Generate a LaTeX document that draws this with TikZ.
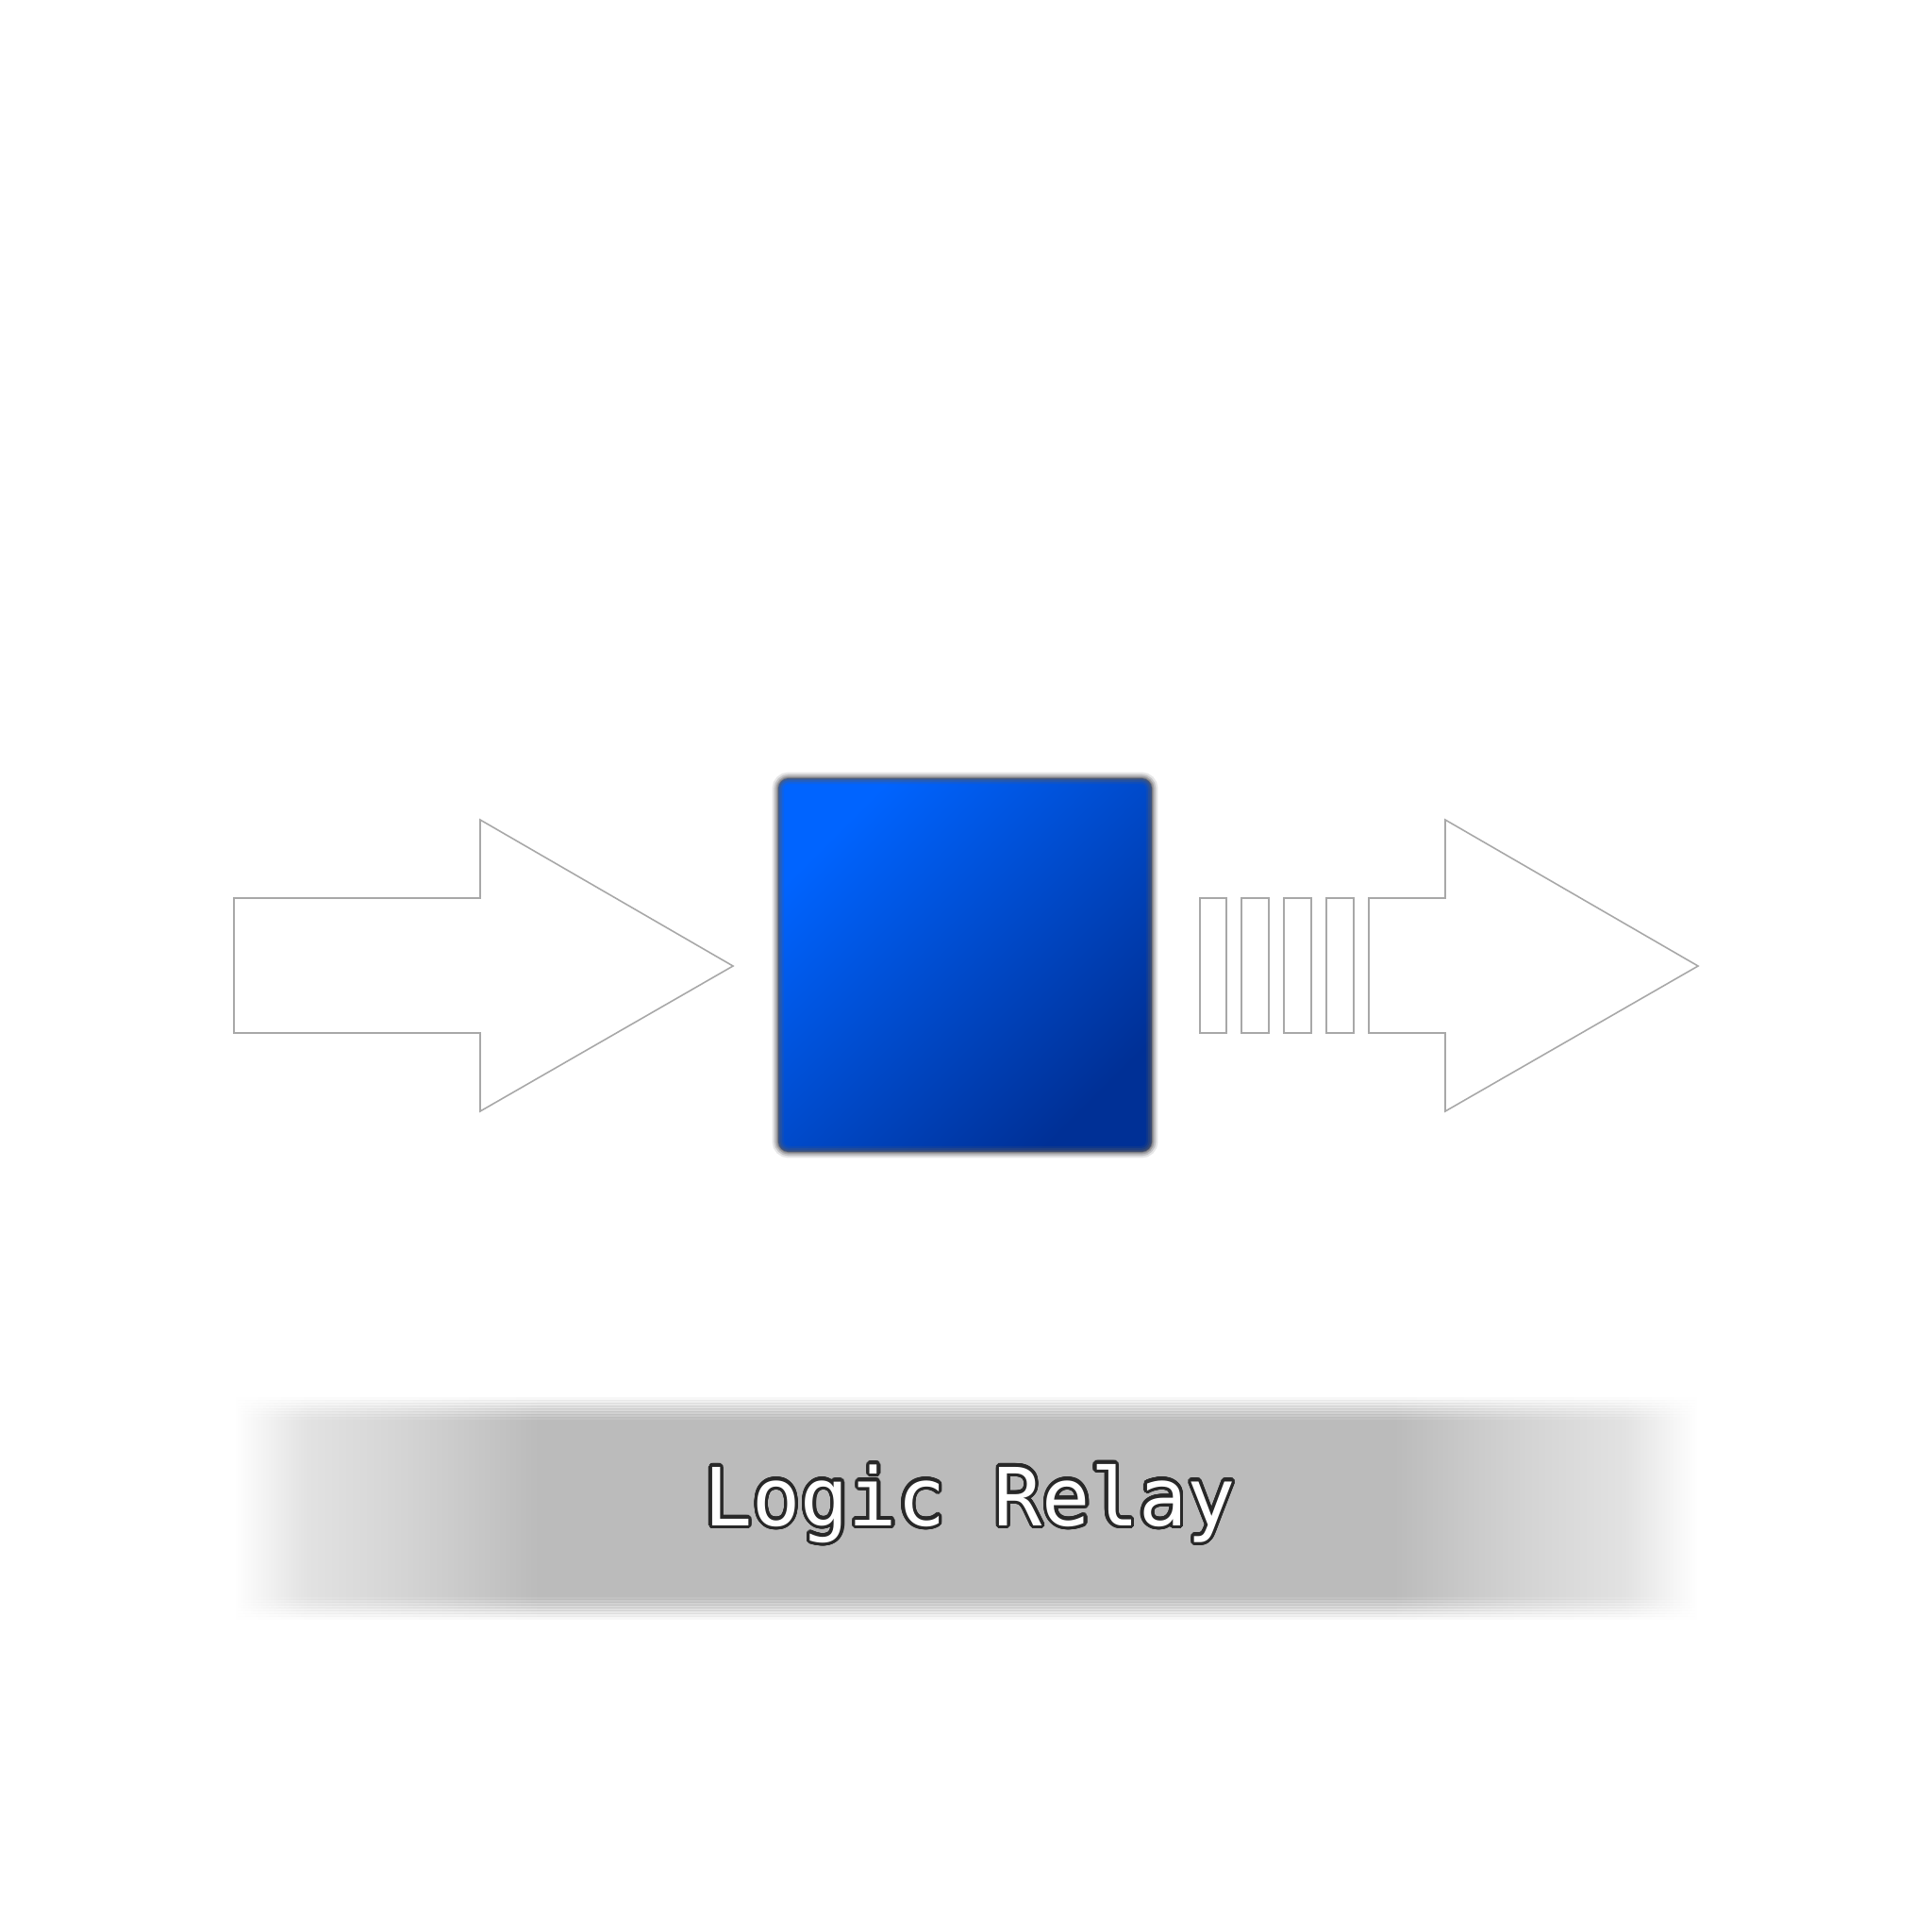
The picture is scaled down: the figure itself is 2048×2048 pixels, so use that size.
\documentclass[tikz,border=0pt]{standalone}
\usepackage{fontspec}
\usepackage{contour}
\newfontfamily\labelfont{DejaVu Sans Mono}
\definecolor{arrowline}{RGB}{168,168,168}
\definecolor{blueA}{RGB}{0,100,255}
\definecolor{blueB}{RGB}{0,48,150}
\definecolor{edgegray}{RGB}{90,90,96}
\definecolor{textline}{RGB}{40,40,40}
\definecolor{bandA}{RGB}{226,226,226}
\definecolor{bandB}{RGB}{213,213,213}
\definecolor{bandC}{RGB}{204,204,204}
\definecolor{bandD}{RGB}{187,187,187}
\pgfdeclarehorizontalshading{bandsh}{100bp}{color(0bp)=(white); color(25bp)=(white); color(27.5bp)=(bandA); color(30.6bp)=(bandB); color(32.4bp)=(bandC); color(35.4bp)=(bandD); color(64.6bp)=(bandD); color(67.6bp)=(bandC); color(69.4bp)=(bandB); color(72.5bp)=(bandA); color(75bp)=(white); color(100bp)=(white)}
\contourlength{0.95pt}
\contournumber{32}
\tikzset{
  bigarrow/.style={draw=arrowline, fill=white, line width=0.45pt, line join=miter},
  barbox/.style={draw=arrowline, fill=white, line width=0.45pt},
  relaybox/.style={minimum size=3.96cm, inner sep=0pt, rounded corners=0.11cm,
    top color=blueA, bottom color=blueB, shading angle=45,
    postaction={draw=edgegray, line width=3.6pt, draw opacity=0.15},
    postaction={draw=edgegray, line width=2.4pt, draw opacity=0.25},
    postaction={draw=edgegray, line width=1.3pt, draw opacity=0.35},
    postaction={draw=edgegray, line width=0.5pt, draw opacity=0.4}},
  labeltext/.style={anchor=base, inner sep=0pt, text=white,
    font=\labelfont\fontsize{24.2pt}{29pt}\selectfont}
}
\begin{document}
\begin{tikzpicture}[x=0.01cm, y=-0.01cm]
\useasboundingbox (0,0) rectangle (2048,2048);
\fill[white] (0,0) rectangle (2048,2048);

% input arrow
\draw[bigarrow] (248,952) -- (509,952) -- (509,869) -- (777,1024) -- (509,1178) -- (509,1095) -- (248,1095) -- cycle;

% relay block
\node[relaybox] (relay) at (1023,1023) {};

% output bars
\draw[barbox] (1272,952) rectangle (1300,1095);
\draw[barbox] (1316,952) rectangle (1345,1095);
\draw[barbox] (1361,952) rectangle (1390,1095);
\draw[barbox] (1406,952) rectangle (1435,1095);

% output arrow
\draw[bigarrow] (1451,952) -- (1532,952) -- (1532,869) -- (1800,1024) -- (1532,1178) -- (1532,1095) -- (1451,1095) -- cycle;

% label band
\shade[shading=bandsh] (248,1505) rectangle (1800,1692);
\foreach \i in {1,...,8}{
  \shade[shading=bandsh, opacity={1-\i/9}] (248,{1505-3*\i}) rectangle (1800,{1508-3*\i});
  \shade[shading=bandsh, opacity={1-\i/9}] (248,{1689+3*\i}) rectangle (1800,{1692+3*\i});
}

\node[labeltext] (label) at (1028,1617) {\contour{textline}{Logic Relay}};
\end{tikzpicture}
\end{document}
